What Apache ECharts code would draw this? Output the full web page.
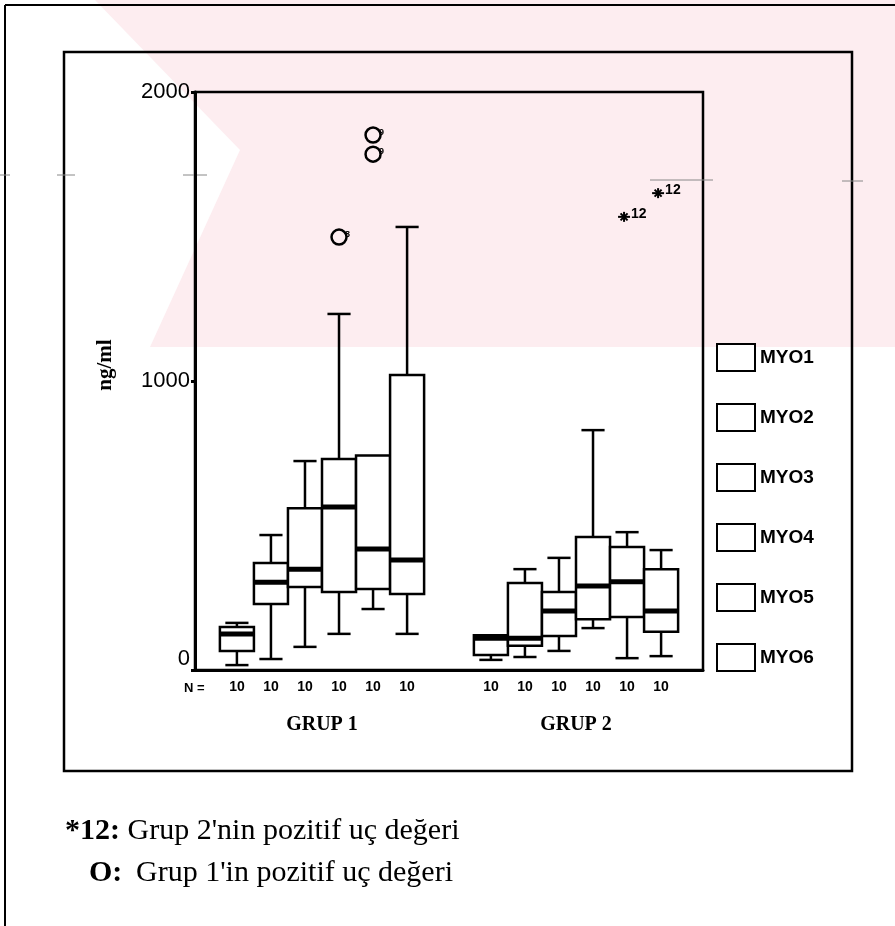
<!DOCTYPE html>
<html><head><meta charset="utf-8">
<script src="https://cdn.jsdelivr.net/npm/echarts@6/dist/echarts.min.js"></script>
<style>html,body{margin:0;padding:0;background:#fff}#c{width:895px;height:926px}</style>
</head><body><div id="c"></div>
<script>
const groups = ['GRUP 1', 'GRUP 2'];
const seriesNames = ['MYO1', 'MYO2', 'MYO3', 'MYO4', 'MYO5', 'MYO6'];
const nCounts = [[10, 10, 10, 10, 10, 10], [10, 10, 10, 10, 10, 10]];
const yTicks = [0, 1000, 2000];
// five-number summaries [min, Q1, median, Q3, max], one per group
const myo1 = [[17, 66, 125, 149, 163], [35, 52, 110, 120, 120]];
const myo2 = [[38, 228, 304, 370, 467], [45, 84, 110, 301, 349]];
const myo3 = [[80, 287, 349, 560, 723], [66, 118, 204, 270, 388]];
const myo4 = [[125, 270, 564, 730, 1232], [145, 176, 291, 460, 830]];
const myo5 = [[211, 280, 419, 742, 742], [41, 183, 305, 426, 477]];
const myo6 = [[125, 263, 381, 1021, 1533], [48, 132, 204, 349, 415]];
// outliers: [groupIndex, seriesIndex, value]
const outliersG1 = [[0, 3, 1498], [0, 4, 1851], [0, 4, 1785]];
const outliersG1Labels = ['8', '9', '9'];
const outliersG2 = [[1, 4, 1568], [1, 5, 1650]];
const outliersG2Labels = ['12', '12'];

const summaries = [myo1, myo2, myo3, myo4, myo5, myo6];
const STEP = 0.134;

function centerX(api, cat, k) {
  const bw = api.size([1, 0])[0];
  return api.coord([cat, 0])[0] + (k - 2.5) * bw * STEP;
}

function boxItem(k) {
  return function (params, api) {
    const cat = api.value(0);
    const bw = api.size([1, 0])[0];
    const half = bw * STEP / 2;
    const cx = centerX(api, cat, k);
    const y = i => api.coord([cat, api.value(i)])[1];
    const yMin = y(1), yQ1 = y(2), yMed = y(3), yQ3 = y(4), yMax = y(5);
    const cap = half * 0.68;
    const ls = { stroke: '#000', lineWidth: 2.5, fill: null };
    const ch = [];
    if (yMax < yQ3 - 0.5) {
      ch.push({ type: 'line', shape: { x1: cx, y1: yQ3, x2: cx, y2: yMax }, style: ls });
      ch.push({ type: 'line', shape: { x1: cx - cap, y1: yMax, x2: cx + cap, y2: yMax }, style: ls });
    }
    if (yMin > yQ1 + 0.5) {
      ch.push({ type: 'line', shape: { x1: cx, y1: yQ1, x2: cx, y2: yMin }, style: ls });
      ch.push({ type: 'line', shape: { x1: cx - cap, y1: yMin, x2: cx + cap, y2: yMin }, style: ls });
    }
    ch.push({ type: 'rect', shape: { x: cx - half, y: yQ3, width: 2 * half, height: yQ1 - yQ3 },
      style: { fill: '#fff', stroke: '#000', lineWidth: 2.5 } });
    ch.push({ type: 'line', shape: { x1: cx - half, y1: yMed, x2: cx + half, y2: yMed },
      style: { stroke: '#000', lineWidth: 5 } });
    return { type: 'group', children: ch };
  };
}

function circleOutlier(params, api) {
  const cat = api.value(0), k = api.value(1);
  const cx = centerX(api, cat, k);
  const cy = api.coord([cat, api.value(2)])[1];
  return { type: 'group', children: [
    { type: 'circle', shape: { cx: cx, cy: cy, r: 7.5 }, style: { fill: 'rgba(0,0,0,0)', stroke: '#000', lineWidth: 2.5 } },
    { type: 'text', x: cx + 6, y: cy - 3, style: { text: outliersG1Labels[params.dataIndex], fontSize: 9, fontWeight: 'bold',
      fontFamily: 'Liberation Sans', fill: '#000', verticalAlign: 'middle' } }
  ] };
}

function starOutlier(params, api) {
  const cat = api.value(0), k = api.value(1);
  const cx = centerX(api, cat, k) - 3;
  const cy = api.coord([cat, api.value(2)])[1];
  const r = 5, d = 3.5;
  const st = { stroke: '#000', lineWidth: 2 };
  return { type: 'group', children: [
    { type: 'line', shape: { x1: cx - r - 1, y1: cy, x2: cx + r + 1, y2: cy }, style: st },
    { type: 'line', shape: { x1: cx, y1: cy - r, x2: cx, y2: cy + r }, style: st },
    { type: 'line', shape: { x1: cx - d, y1: cy - d, x2: cx + d, y2: cy + d }, style: st },
    { type: 'line', shape: { x1: cx - d, y1: cy + d, x2: cx + d, y2: cy - d }, style: st },
    { type: 'text', x: cx + 7, y: cy - 3, style: { text: outliersG2Labels[params.dataIndex], fontSize: 14, fontWeight: 'bold',
      fontFamily: 'Liberation Sans', fill: '#000', verticalAlign: 'middle' } }
  ] };
}

const boxSeries = seriesNames.map((name, k) => ({
  name: name,
  type: 'custom',
  renderItem: boxItem(k),
  itemStyle: { color: '#fff', borderColor: '#000', borderWidth: 2 },
  encode: { x: 0, y: [1, 2, 3, 4, 5] },
  data: groups.map((g, i) => [i].concat(summaries[k][i])),
  z: 3
}));

const pink = '#fdedf0';
const chart = echarts.init(document.getElementById('c'));
chart.setOption({
  backgroundColor: '#fff',
  animation: false,
  grid: { left: 195, top: 92, width: 508, height: 578, show: true, borderColor: '#000', borderWidth: 2.5, backgroundColor: 'transparent' },
  legend: {
    data: seriesNames, orient: 'vertical', left: 711, top: 338,
    itemWidth: 38, itemHeight: 27, itemGap: 31, icon: 'rect',
    itemStyle: { color: '#fff', borderColor: '#000', borderWidth: 2 },
    textStyle: { fontFamily: 'Liberation Sans', fontSize: 19, fontWeight: 'bold', color: '#000' },
    selectedMode: false
  },
  xAxis: {
    type: 'category', data: groups, boundaryGap: true,
    axisLine: { lineStyle: { color: '#000', width: 3 } },
    axisTick: { alignWithLabel: true, length: 3, lineStyle: { color: '#000', width: 3 } },
    splitLine: { show: false },
    axisLabel: {
      interval: 0, margin: 7, color: '#000',
      formatter: (v, i) => nCounts[i].map(n => '{n|' + n + '}').join('') + '\n{g|' + v + '}',
      rich: {
        n: { width: 34, align: 'center', fontFamily: 'Liberation Sans', fontWeight: 'bold', fontSize: 14, lineHeight: 20, color: '#000' },
        g: { fontFamily: 'Liberation Serif', fontWeight: 'bold', fontSize: 20, lineHeight: 56, color: '#000' }
      }
    }
  },
  yAxis: {
    type: 'value', min: yTicks[0], max: yTicks[yTicks.length - 1], interval: yTicks[1] - yTicks[0],
    axisLine: { show: true, lineStyle: { color: '#000', width: 3 } },
    axisTick: { show: true, length: 4, lineStyle: { color: '#000', width: 3 } },
    splitLine: { show: false },
    axisLabel: {
      margin: 5, color: '#000',
      formatter: v => v === 0 ? '{z|0}' : '{t|' + v + '}',
      rich: {
        z: { fontFamily: 'Liberation Sans', fontSize: 22, color: '#000', padding: [0, 0, 22, 0] },
        t: { fontFamily: 'Liberation Sans', fontSize: 22, color: '#000' }
      }
    }
  },
  graphic: [
    { type: 'polygon', z: -10, silent: true, shape: { points: [[95, 0], [895, 0], [895, 347], [150, 347], [240, 150]] }, style: { fill: pink } },
    { type: 'line', shape: { x1: 5, y1: 5, x2: 895, y2: 5 }, style: { stroke: '#000', lineWidth: 2 } },
    { type: 'line', shape: { x1: 5, y1: 5, x2: 5, y2: 926 }, style: { stroke: '#000', lineWidth: 2 } },
    { type: 'rect', shape: { x: 64, y: 52, width: 788, height: 719 }, style: { fill: 'rgba(0,0,0,0)', stroke: '#000', lineWidth: 2.5 } },
    { type: 'line', shape: { x1: 0, y1: 175, x2: 10, y2: 175 }, style: { stroke: '#888', lineWidth: 1 } },
    { type: 'line', shape: { x1: 57, y1: 175, x2: 75, y2: 175 }, style: { stroke: '#888', lineWidth: 1 } },
    { type: 'line', shape: { x1: 183, y1: 175, x2: 207, y2: 175 }, style: { stroke: '#888', lineWidth: 1 } },
    { type: 'line', shape: { x1: 650, y1: 180, x2: 713, y2: 180 }, style: { stroke: '#888', lineWidth: 1 } },
    { type: 'line', shape: { x1: 842, y1: 181, x2: 863, y2: 181 }, style: { stroke: '#888', lineWidth: 1 } },
    { type: 'text', x: 106, y: 365, rotation: Math.PI / 2,
      style: { text: 'ng/ml', fontFamily: 'Liberation Serif', fontWeight: 'bold', fontSize: 21, fill: '#000', align: 'center', verticalAlign: 'middle' } },
    { type: 'text', x: 184, y: 688,
      style: { text: 'N =', fontFamily: 'Liberation Sans', fontWeight: 'bold', fontSize: 13, fill: '#000', verticalAlign: 'middle' } },
    { type: 'text', x: 65, y: 831,
      style: { text: "{b|*12:} Grup 2'nin pozitif uç değeri", fontFamily: 'Liberation Serif', fontSize: 30, fill: '#000', verticalAlign: 'middle',
        rich: { b: { fontFamily: 'Liberation Serif', fontSize: 30, fontWeight: 'bold', fill: '#000' } } } },
    { type: 'text', x: 89, y: 873,
      style: { text: 'O:', fontFamily: 'Liberation Serif', fontSize: 30, fontWeight: 'bold', fill: '#000', verticalAlign: 'middle' } },
    { type: 'text', x: 136, y: 873,
      style: { text: "Grup 1'in pozitif uç değeri", fontFamily: 'Liberation Serif', fontSize: 30, fill: '#000', verticalAlign: 'middle' } }
  ],
  series: boxSeries.concat([
    { name: 'outG1', type: 'custom', renderItem: circleOutlier, encode: { x: 0, y: 2 }, data: outliersG1, z: 4 },
    { name: 'outG2', type: 'custom', renderItem: starOutlier, encode: { x: 0, y: 2 }, data: outliersG2, z: 4 }
  ])
});
</script>
</body></html>
